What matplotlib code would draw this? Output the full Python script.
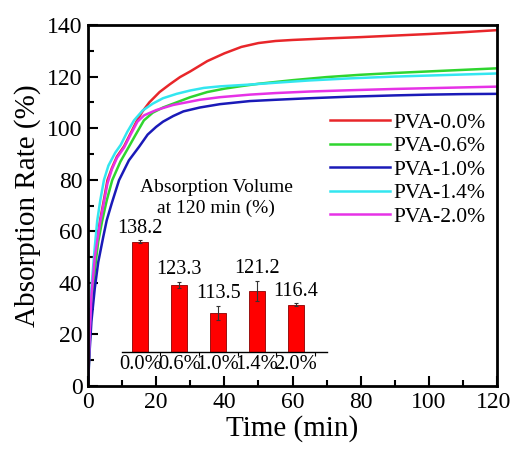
import matplotlib
matplotlib.use("Agg")
import matplotlib.pyplot as plt
import matplotlib.transforms as mtransforms
import numpy as np

plt.rcParams['font.family'] = ['Liberation Serif', 'DejaVu Serif']
plt.rcParams['mathtext.fontset'] = 'stix'

# ---- data ----
series_labels = ["PVA-0.0%", "PVA-0.6%", "PVA-1.0%", "PVA-1.4%", "PVA-2.0%"]
series_colors = ["#e8262a", "#2fd52f", "#1a1ab8", "#33e6f0", "#e632e6"]

t_red = [0, 0.5, 1, 2, 3.5, 4.5, 5.7, 7, 8.5, 10.6, 12.5, 14.4, 16, 18, 21, 24, 27, 30, 35, 40, 45, 50, 55, 60, 70, 80, 90, 100, 110, 120]
y_red = [0, 20, 35, 50, 64, 71, 79.8, 84.5, 89, 93, 98, 103, 106.5, 110, 114, 117, 119.8, 122, 126, 129, 131.5, 133, 133.8, 134.2, 134.8, 135.3, 135.9, 136.5, 137.2, 138]

t_green = [0, 0.5, 1, 2, 3, 4.2, 5.5, 7.1, 9.5, 12, 14, 16.4, 19, 22, 26, 30, 35, 40, 45, 50, 60, 70, 80, 90, 100, 110, 120]
y_green = [0, 17, 30, 45, 56, 64.3, 72, 79.8, 87, 92.8, 97.5, 103, 106, 108, 110, 112, 114, 115.3, 116.3, 117.2, 118.6, 119.8, 120.7, 121.4, 122, 122.6, 123.2]

t_blue = [0, 0.5, 1, 2, 3, 4.5, 5.5, 7, 9.1, 12, 15, 17.5, 20, 22, 25, 28, 32.8, 38.7, 47.5, 55, 65, 76.8, 90, 100, 110, 120]
y_blue = [0, 14, 25, 38, 48, 58, 64.3, 71, 79.8, 87.5, 92.8, 97.5, 100.5, 102.5, 104.7, 106.5, 108, 109.3, 110.5, 111, 111.6, 112.2, 112.7, 113, 113.2, 113.3]

t_cyan = [0, 0.5, 1, 2, 2.7, 3.6, 4.7, 6, 8, 9.6, 11.5, 13.5, 16, 19, 22, 26, 30, 34, 38.7, 47.5, 55, 65, 76.8, 90, 100, 110, 120]
y_cyan = [0, 22, 38, 54, 64, 72, 80, 85.5, 90.5, 93.5, 98.5, 103, 106.8, 109.5, 111.6, 113.3, 114.6, 115.6, 116.2, 116.9, 117.6, 118.5, 119.3, 120, 120.4, 120.8, 121.2]

t_mag = [0, 0.5, 1, 2, 3.5, 4.5, 5.7, 7, 8.5, 10.6, 12.5, 14.5, 16.5, 20, 25, 32.8, 38.7, 47.5, 55, 65, 76.8, 90, 100, 110, 120]
y_mag = [0, 20, 35, 50, 63, 70, 78.5, 84, 88.5, 92.5, 97.5, 102.5, 105, 107, 109, 111, 112, 113, 113.6, 114.2, 114.7, 115.2, 115.5, 115.8, 116.1]

bar_categories = ["0.0%", "0.6%", "1.0%", "1.4%", "2.0%"]
bar_values = [138.2, 123.3, 113.5, 121.2, 116.4]
bar_errors = [0.5, 1.0, 2.5, 3.5, 0.5]
bar_labels = ["138.2", "123.3", "113.5", "121.2", "116.4"]

xticks = [0, 20, 40, 60, 80, 100, 120]
yticks = [0, 20, 40, 60, 80, 100, 120, 140]

# ---- figure ----
fig = plt.figure(figsize=(5.13, 4.51), dpi=100)
ax = fig.add_axes([88/513, 1-386/451, (497-88)/513, (386-25)/451])

curves = [(t_red, y_red), (t_green, y_green), (t_blue, y_blue), (t_cyan, y_cyan), (t_mag, y_mag)]
for (t, y), c, lab in zip(curves, series_colors, series_labels):
    ax.plot(t, y, color=c, lw=1.8, label=lab)

ax.set_xlim(0, 120)
ax.set_ylim(0, 140)
ax.set_xticks(xticks)
ax.set_yticks(yticks)
ax.set_xticks(np.arange(10, 120, 20), minor=True)
ax.set_yticks(np.arange(10, 140, 20), minor=True)
ax.tick_params(which='both', direction='in', top=False, right=False, labelsize=17, width=1.5)
ax.tick_params(which='major', length=7, pad=4)
ax.tick_params(which='minor', length=4)
for s in ax.spines.values():
    s.set_linewidth(2)
ax.set_xlabel("Time (min)", fontsize=21, labelpad=2)
ax.set_ylabel("Absorption Rate (%)", fontsize=21, labelpad=4)

# nudge the last x tick label so it stays inside the canvas
last_lab = ax.get_xticklabels()[-1]
last_lab.set_transform(last_lab.get_transform() +
                       mtransforms.ScaledTranslation(-3/100, 0, fig.dpi_scale_trans))

leg = ax.legend(loc='upper left', bbox_to_anchor=(0.592, 0.757), frameon=False,
                fontsize=15.5, handlelength=2.8, handletextpad=0.12,
                labelspacing=0.16, borderaxespad=0, borderpad=0)

# ---- inset bar chart ----
ins = fig.add_axes([122/513, 1-352/451, 205/513, 130/451])
ins.patch.set_alpha(0)
xpos = np.arange(len(bar_values))
ins.bar(xpos, np.array(bar_values) - 100, bottom=100, width=0.42, color='#ff0000',
        edgecolor='#8b0000', linewidth=0.6,
        yerr=bar_errors, error_kw=dict(ecolor='#333333', elinewidth=0.8, capsize=1.5, capthick=0.8))
for xp, v, e, lab in zip(xpos, bar_values, bar_errors, bar_labels):
    ins.text(xp, v + max(e, 0.6) + 0.8, lab, ha='center', va='bottom', fontsize=14.5)
ins.set_xlim(-0.47, 4.8)
ins.set_ylim(100, 145)
for side in ['top', 'right', 'left']:
    ins.spines[side].set_visible(False)
ins.spines['bottom'].set_linewidth(1.0)
ins.set_yticks([])
ins.set_xticks(np.arange(0.5, 5, 1), minor=True)
ins.set_xticks(xpos)
ins.set_xticklabels(bar_categories, fontsize=14.8)
ins.tick_params(axis='x', which='major', length=0, pad=2)
ins.tick_params(axis='x', which='minor', length=3, direction='out', width=0.8)
ins.text(0.459, 1.33, "Absorption Volume\nat 120 min (%)", transform=ins.transAxes,
         ha='center', va='top', fontsize=14, linespacing=1.25)

fig.savefig("out.png", dpi=100)
